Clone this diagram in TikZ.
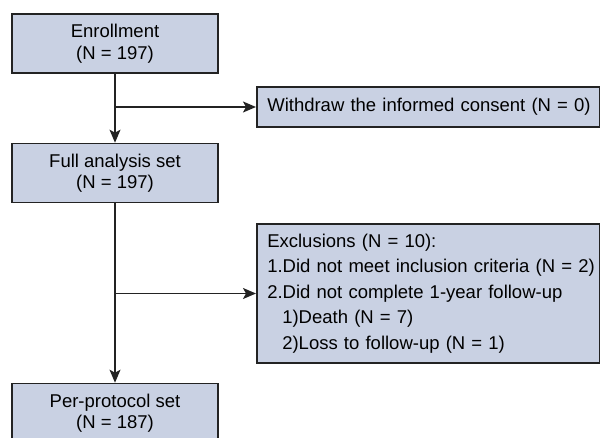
\documentclass[tikz,border=0pt]{standalone}
\usepackage{fontspec}
\setmainfont{Liberation Sans}
\usetikzlibrary{arrows.meta}
\usetikzlibrary{positioning}
\definecolor{boxfill}{RGB}{201,209,227}
\definecolor{boxline}{RGB}{35,35,35}

\begin{document}
\begin{tikzpicture}[x=1pt,y=-1pt,
    box/.style={draw=boxline, line width=1.6pt, fill=boxfill, inner sep=0pt,
        font=\fontsize{18.5}{21.5}\selectfont},
    mainbox/.style={box, minimum width=206pt, minimum height=59pt, align=center},
    sidebox/.style={box, minimum width=343pt, align=left, anchor=west,
        inner xsep=10.5pt, text width=322pt},
    flow/.style={line width=1.4pt, draw=boxline, -{Stealth[length=13pt,width=11pt,inset=3pt]}}]
    \useasboundingbox (0,0) rectangle (600,438);
    % colonne principale
    \node[mainbox] (enrol) at (115,43.5) {Enrollment\\(N = 197)};
    \node[mainbox] (fas) at (115,173) {Full analysis set\\(N = 197)};
    \node[mainbox] (pps) at (115,413) {Per-protocol set\\(N = 187)};
    % boites laterales
    \node[sidebox, minimum height=40pt] (withdraw) at (256,107)
        {\mbox{Withdraw the informed consent (N = 0)}};
    \node[sidebox, minimum height=139pt, font=\fontsize{18.5}{25.5}\selectfont]
        (excl) at (256,293.5)
        {Exclusions (N = 10):\\
         \mbox{1.Did not meet inclusion criteria (N = 2)}\\
         \mbox{2.Did not complete 1-year follow-up}\\
         \hspace*{15pt}1)Death (N = 7)\\
         \hspace*{15pt}2)Loss to follow-up (N = 1)};
    % fleches
    \coordinate (split1) at (115,107);
    \coordinate (split2) at (115,293.5);
    \draw[flow] (enrol) -- (fas);
    \draw[flow] (fas) -- (pps);
    \draw[flow] (split1) -- (withdraw);
    \draw[flow] (split2) -- (excl);
\end{tikzpicture}
\end{document}
